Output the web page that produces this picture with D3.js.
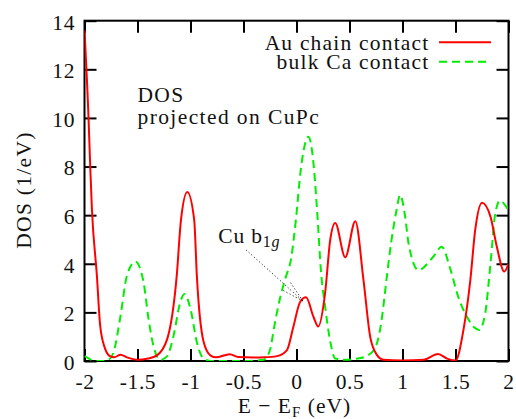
<!DOCTYPE html>
<html>
<head>
<meta charset="utf-8">
<script src="https://cdn.jsdelivr.net/npm/d3@7"></script>
<style>
  html, body { margin: 0; padding: 0; background: #fff; }
  svg { display: block; }
  svg text { font-family: 'Liberation Serif', 'DejaVu Serif', 'Noto Serif', 'Times New Roman', serif !important; fill: #111; }
</style>
</head>
<body>
<svg id="chart" width="516" height="419"></svg>
<script>
// ---- data ----
const auX = [-2.0, -1.962, -1.946, -1.93, -1.883, -1.852, -1.805, -1.76, -1.72, -1.66, -1.6, -1.5, -1.4, -1.32, -1.22, -1.13, -1.09, -1.03, -0.965, -0.94, -0.877, -0.81, -0.76, -0.63, -0.55, -0.4, -0.3, -0.185, -0.09, -0.03, 0.035, 0.09, 0.16, 0.205, 0.27, 0.318, 0.365, 0.46, 0.555, 0.632, 0.695, 0.758, 0.82, 1.0, 1.2, 1.335, 1.42, 1.5, 1.575, 1.64, 1.686, 1.75, 1.83, 1.89, 1.96, 2.0];
const auY = [13.6, 10.0, 8.0, 6.25, 3.5, 1.45, 0.5, 0.2, 0.15, 0.26, 0.15, 0.05, 0.1, 0.22, 0.9, 3.5, 5.8, 6.95, 5.8, 3.5, 0.8, 0.22, 0.15, 0.28, 0.16, 0.14, 0.15, 0.2, 0.45, 1.4, 2.44, 2.62, 1.82, 1.42, 2.8, 4.98, 5.68, 4.27, 5.75, 3.33, 1.0, 0.25, 0.05, 0.02, 0.05, 0.29, 0.1, 0.02, 1.28, 3.33, 5.39, 6.51, 5.94, 4.7, 3.68, 4.0];

const caX = [-2.0, -1.95, -1.9, -1.8, -1.76, -1.726, -1.66, -1.6, -1.52, -1.443, -1.396, -1.35, -1.286, -1.22, -1.16, -1.097, -1.057, -1.0, -0.94, -0.877, -0.8, -0.5, -0.31, -0.25, -0.21, -0.163, -0.1, -0.053, -0.006, 0.04, 0.113, 0.166, 0.2, 0.23, 0.27, 0.316, 0.365, 0.45, 0.6, 0.658, 0.736, 0.8, 0.846, 0.893, 0.94, 0.978, 1.025, 1.057, 1.15, 1.29, 1.37, 1.45, 1.525, 1.608, 1.67, 1.724, 1.78, 1.83, 1.875, 1.92, 1.985, 2.0];
const caY = [0.2, 0.08, 0.0, 0.0, 0.1, 0.36, 1.86, 3.51, 4.09, 3.24, 1.73, 0.63, 0.05, 0.2, 1.04, 2.41, 2.76, 2.14, 0.77, 0.1, 0.0, 0.0, 0.05, 0.45, 1.41, 2.44, 3.47, 4.16, 5.8, 7.86, 9.23, 7.86, 5.8, 3.74, 2.24, 0.86, 0.1, 0.05, 0.12, 0.2, 0.49, 1.59, 3.24, 4.88, 6.12, 6.83, 5.94, 4.84, 3.74, 4.29, 4.7, 3.8, 2.65, 1.82, 1.41, 1.28, 1.96, 4.0, 6.07, 6.6, 6.3, 6.2];

const xTicks = [-2, -1.5, -1, -0.5, 0, 0.5, 1, 1.5, 2];
const xTickLabels = ["-2", "-1.5", "-1", "-0.5", "0", "0.5", "1", "1.5", "2"];
const yTicks = [0, 2, 4, 6, 8, 10, 12, 14];
const yTickLabels = ["0", "2", "4", "6", "8", "10", "12", "14"];

const seriesNames = ["Au chain contact", "bulk Ca contact"];
const seriesColors = ["#ff0000", "#00ee00"];

// annotation: arrow from label to Cu b1g peak (data coords)
const arrowFrom = [-0.475, 4.57];
const arrowTo = [0.06, 2.47];

// ---- drawing ----
const svg = d3.select("#chart");
const L = 84.5, R = 508.5, T = 20.7, B = 361;
const x = d3.scaleLinear().domain([-2, 2]).range([L, R]);
const y = d3.scaleLinear().domain([0, 14]).range([B, T]);

svg.append("defs").append("clipPath").attr("id", "clip")
  .append("rect").attr("x", L).attr("y", T).attr("width", R - L).attr("height", B - T);

const fs = 21.5;

// axes with inward ticks
const gB = svg.append("g").attr("transform", `translate(0,${B})`)
  .call(d3.axisBottom(x).tickValues(xTicks).tickFormat((d, i) => xTickLabels[i]).tickSize(-12).tickPadding(12));
const gT = svg.append("g").attr("transform", `translate(0,${T})`)
  .call(d3.axisTop(x).tickValues(xTicks).tickFormat("").tickSize(-12));
const gL = svg.append("g").attr("transform", `translate(${L},0)`)
  .call(d3.axisLeft(y).tickValues(yTicks).tickFormat((d, i) => yTickLabels[i]).tickSize(-12).tickPadding(9.5));
const gR = svg.append("g").attr("transform", `translate(${R},0)`)
  .call(d3.axisRight(y).tickValues(yTicks).tickFormat("").tickSize(-12));

[gB, gT, gL, gR].forEach(g => {
  g.attr("font-family", null).attr("font-size", null);
  g.select(".domain").remove();
  g.selectAll(".tick line").attr("stroke", "#000").attr("stroke-width", 2);
  g.selectAll(".tick text").attr("font-size", fs).attr("fill", "#111").style("letter-spacing", "0.6px");
});
gL.selectAll(".tick text").attr("dy", "0.39em");
gB.selectAll(".tick text").attr("dy", null).attr("y", 27.5);

// frame
svg.append("rect").attr("x", L).attr("y", T).attr("width", R - L).attr("height", B - T)
  .attr("fill", "none").attr("stroke", "#000").attr("stroke-width", 2);

// curves
const line = d3.line().x(d => x(d[0])).y(d => y(d[1])).curve(d3.curveMonotoneX);
const auData = auX.map((v, i) => [v, auY[i]]);
const caData = caX.map((v, i) => [v, caY[i]]);

const plot = svg.append("g").attr("clip-path", "url(#clip)");
plot.append("path").datum(caData).attr("d", line).attr("fill", "none")
  .attr("stroke", seriesColors[1]).attr("stroke-width", 2).attr("stroke-dasharray", "8,5");
plot.append("path").datum(auData).attr("d", line).attr("fill", "none")
  .attr("stroke", seriesColors[0]).attr("stroke-width", 2);

// legend
const legX1 = 439, legX2 = 491;
[[42.3, 50], [61.7, 69.4]].forEach(([ly, ty], i) => {
  svg.append("text").attr("x", 429.5).attr("y", ty).attr("text-anchor", "end")
    .attr("font-size", fs).style("letter-spacing", "1.2px").text(seriesNames[i]);
  svg.append("line").attr("x1", legX1).attr("x2", legX2).attr("y1", ly).attr("y2", ly)
    .attr("stroke", seriesColors[i]).attr("stroke-width", 2)
    .attr("stroke-dasharray", i === 1 ? "8,5" : null);
});

// DOS projected on CuPc
svg.append("text").attr("x", 137.5).attr("y", 101.7).attr("font-size", fs)
  .style("letter-spacing", "1.3px").text("DOS");
svg.append("text").attr("x", 137.5).attr("y", 123.5).attr("font-size", fs)
  .style("letter-spacing", "1.4px").text("projected on CuPc");

// Cu b1g label
const cu = svg.append("text").attr("x", 218.3).attr("y", 243.3).attr("font-size", fs)
  .style("letter-spacing", "0.8px");
cu.append("tspan").text("Cu b");
cu.append("tspan").attr("font-size", 16).attr("dy", 3.5).text("1");
cu.append("tspan").attr("font-size", 16).attr("font-style", "italic").text("g");

// dotted arrow
const ax1 = x(arrowFrom[0]), ay1 = y(arrowFrom[1]), ax2 = x(arrowTo[0]), ay2 = y(arrowTo[1]);
svg.append("line").attr("x1", ax1).attr("y1", ay1).attr("x2", ax2).attr("y2", ay2)
  .attr("stroke", "#000").attr("stroke-width", 1).attr("stroke-dasharray", "1,2.5");
const ang = Math.atan2(ay2 - ay1, ax2 - ax1);
const hl = 22, ha = 14 * Math.PI / 180;
[-1, 1].forEach(s => {
  svg.append("line").attr("x1", ax2).attr("y1", ay2)
    .attr("x2", ax2 - hl * Math.cos(ang + s * ha)).attr("y2", ay2 - hl * Math.sin(ang + s * ha))
    .attr("stroke", "#000").attr("stroke-width", 1).attr("stroke-dasharray", "1,2.5");
});

// axis titles
const xl = svg.append("text").attr("x", 294.5).attr("y", 413).attr("text-anchor", "middle")
  .attr("font-size", fs).style("letter-spacing", "1px");
xl.append("tspan").text("E \u2212 E");
xl.append("tspan").attr("font-size", 15).attr("dy", 3.5).text("F");
xl.append("tspan").attr("dy", -3.5).text(" (eV)");

svg.append("text").attr("transform", "translate(31,190) rotate(-90)").attr("text-anchor", "middle")
  .attr("font-size", fs).style("letter-spacing", "1.3px").text("DOS (1/eV)");
</script>
</body>
</html>
